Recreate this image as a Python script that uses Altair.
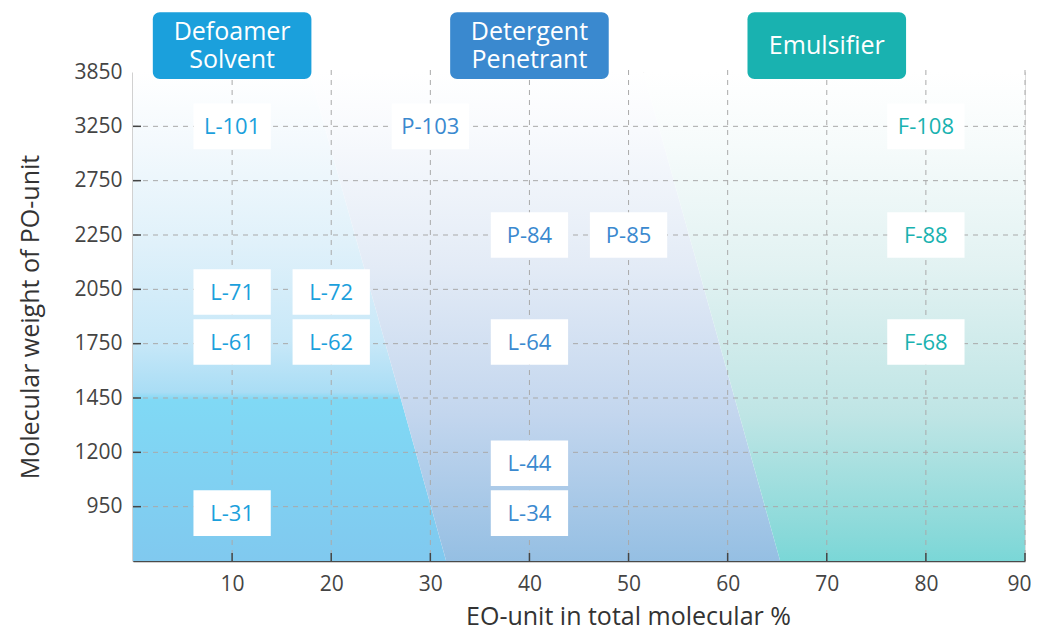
import altair as alt
import pandas as pd

# ---------------- data ----------------
eo_ticks = [10, 20, 30, 40, 50, 60, 70, 80, 90]
po_labels = ["950", "1200", "1450", "1750", "2050", "2250", "2750", "3250", "3850"]
po_rows = [1, 2, 3, 4, 5, 6, 7, 8, 9]

products = ["L-101", "P-103", "F-108", "P-84", "P-85", "F-88", "L-71", "L-72",
            "L-61", "L-62", "L-64", "F-68", "L-44", "L-31", "L-34"]
product_eo = [10, 30, 80, 40, 50, 80, 10, 20, 10, 20, 40, 80, 40, 10, 40]
product_row = [8.0, 8.0, 8.0, 6.0, 6.0, 6.0, 4.95, 4.95, 4.03, 4.03, 4.03, 4.03, 1.8, 0.88, 0.88]
product_group = ["Defoamer", "Detergent", "Emulsifier", "Detergent", "Detergent", "Emulsifier",
                 "Defoamer", "Defoamer", "Defoamer", "Defoamer", "Detergent", "Emulsifier",
                 "Detergent", "Defoamer", "Detergent"]

group_keys = ["Defoamer", "Detergent", "Emulsifier"]
group_titles = ["Defoamer\nSolvent", "Detergent\nPenetrant", "Emulsifier"]
group_eo = [10, 40, 70]
group_colors = ["#05A0DE", "#3588CD", "#00B2B3"]
text_colors = ["#1BA0DC", "#3A89CF", "#19B2B0"]

# region boundaries: EO % at the bottom (row 0) and at the top (row 9)
boundary_rows = [0, 9]
boundary1 = [31.6, 17.8]
boundary2 = [65.3, 51.5]

W, H = 892, 489
FONT = "Open Sans"

xs = alt.Scale(domain=[0, 90], nice=False, zero=False)
ys = alt.Scale(domain=[0, 9], nice=False, zero=False)

label_expr = "[" + ",".join(["''"] + ["'%s'" % l for l in po_labels]) + "][datum.value]"
x_axis = alt.Axis(
    values=eo_ticks, title="EO-unit in total molecular %", ticks=False, grid=False,
    labelFont=FONT, labelFontSize=21, labelColor="#444444", labelPadding=12,
    labelFlush=True, labelFlushOffset=6,
    domainColor="#4A4A4A", domainWidth=1.5,
    titleFont=FONT, titleFontSize=25, titleFontWeight="normal", titleColor="#333333",
    titleX=495, titleY=63, titleAlign="center", titleBaseline="alphabetic")
y_axis = alt.Axis(
    values=po_rows, labelExpr=label_expr, title="Molecular weight of PO-unit", ticks=False,
    grid=False, labelFont=FONT, labelFontSize=21, labelColor="#444444", labelPadding=11,
    domainColor="#4A4A4A", domainWidth=1.5,
    titleFont=FONT, titleFontSize=25, titleFontWeight="normal", titleColor="#333333",
    titleAngle=270, titleX=-95, titleY=H / 2, titleAlign="center", titleBaseline="alphabetic")


def X(f):
    return alt.X(f, scale=xs, axis=x_axis)


def Y(f):
    return alt.Y(f, scale=ys, axis=y_axis)


# ---------------- regions ----------------
reg = pd.DataFrame({"row": boundary_rows, "b1": boundary1, "b2": boundary2,
                    "left": [0, 0], "right": [90, 90]})


def grad(stops):
    return alt.Gradient(gradient="linear", x1=0, y1=0, x2=0, y2=1,
                        stops=[alt.GradientStop(offset=o, color=c) for o, c in stops])


g1 = grad([(0, "#FFFFFF"), (0.15, "#F3F9FD"), (0.35, "#E0F1FA"), (0.55, "#C8E8F8"),
           (0.655, "#A9DDF5"), (0.67, "#80D9F5"), (1, "#80C9EF")])
g2 = grad([(0, "#FFFFFF"), (0.12, "#F8FAFD"), (0.4, "#E3EBF6"), (0.7, "#C3D6EE"), (1, "#95BFE3")])
g3 = grad([(0, "#FFFFFF"), (0.15, "#F6FBFB"), (0.4, "#E2F2F2"), (0.7, "#BFE5E5"),
           (0.95, "#88D9D9"), (1, "#7AD7D7")])

base_reg = alt.Chart(reg)
r1 = base_reg.mark_area(orient="horizontal", fill=g1, interpolate="linear").encode(
    y=Y("row:Q"), x=X("b1:Q"), x2="left:Q")
r2 = base_reg.mark_area(orient="horizontal", fill=g2, interpolate="linear").encode(
    y=Y("row:Q"), x=X("b2:Q"), x2="b1:Q")
r3 = base_reg.mark_area(orient="horizontal", fill=g3, interpolate="linear").encode(
    y=Y("row:Q"), x=X("right:Q"), x2="b2:Q")

# ---------------- grid & ticks ----------------
xt = pd.DataFrame({"eo": eo_ticks})
yt = pd.DataFrame({"row": po_rows[:-1]})

vgrid = alt.Chart(xt).mark_rule(color="#A9A9A9", strokeDash=[5, 5], strokeWidth=1).encode(
    x=X("eo:Q"), y=alt.value(-2), y2=alt.value(H))
hgrid = alt.Chart(yt).mark_rule(color="#A9A9A9", strokeDash=[5, 5], strokeWidth=1).encode(
    y=Y("row:Q"), x=alt.value(0), x2=alt.value(W))
xticks = alt.Chart(xt).mark_rule(color="#444444", strokeWidth=1.5).encode(
    x=X("eo:Q"), y=alt.value(H - 8), y2=alt.value(H))
yticks = alt.Chart(yt).mark_rule(color="#444444", strokeWidth=1.5).encode(
    y=Y("row:Q"), x=alt.value(0), x2=alt.value(8))

# ---------------- product boxes ----------------
prod = pd.DataFrame({"name": products, "eo": product_eo, "row": product_row, "group": product_group})
pbox = alt.Chart(prod).transform_calculate(
    x1="datum.eo - 3.9", x2="datum.eo + 3.9", y1="datum.row - 0.42", y2="datum.row + 0.42"
).mark_rect(fill="white").encode(
    x=X("x1:Q"), x2="x2:Q", y=Y("y1:Q"), y2="y2:Q")
ptext = alt.Chart(prod).mark_text(font=FONT, fontSize=22, align="center", baseline="middle", dy=1).encode(
    x=X("eo:Q"), y=Y("row:Q"), text="name:N",
    color=alt.Color("group:N", scale=alt.Scale(domain=group_keys, range=text_colors), legend=None))

# ---------------- header boxes ----------------
hdr = pd.DataFrame({"key": group_keys, "title": group_titles, "eo": group_eo})
hbox = alt.Chart(hdr).transform_calculate(
    x1="datum.eo - 8", x2="datum.eo + 8", y1="8.87", y2="10.1").mark_rect(cornerRadius=7).encode(
    x=X("x1:Q"), x2="x2:Q", y=Y("y1:Q"), y2="y2:Q",
    color=alt.Color("key:N", scale=alt.Scale(domain=group_keys, range=group_colors), legend=None))
htext = alt.Chart(hdr).transform_calculate(
    ty="indexof(datum.title, '\\n') >= 0 ? 9.75 : 9.49").mark_text(
    font=FONT, fontSize=25, color="white", align="center", baseline="middle", lineBreak="\n",
    lineHeight=28, dy=1).encode(
    x=X("eo:Q"), y=Y("ty:Q"), text="title:N")

chart = alt.layer(
    r1, r2, r3, vgrid, hgrid, xticks, yticks, pbox, ptext, hbox, htext
).properties(
    width=W, height=H,
    autosize=alt.AutoSizeParams(type="none"),
    padding={"left": 125, "top": 64, "right": 6, "bottom": 64},
).configure_view(stroke=None).configure(background="white")

chart.save("out.html", embed_options={"renderer": "svg", "actions": False})
